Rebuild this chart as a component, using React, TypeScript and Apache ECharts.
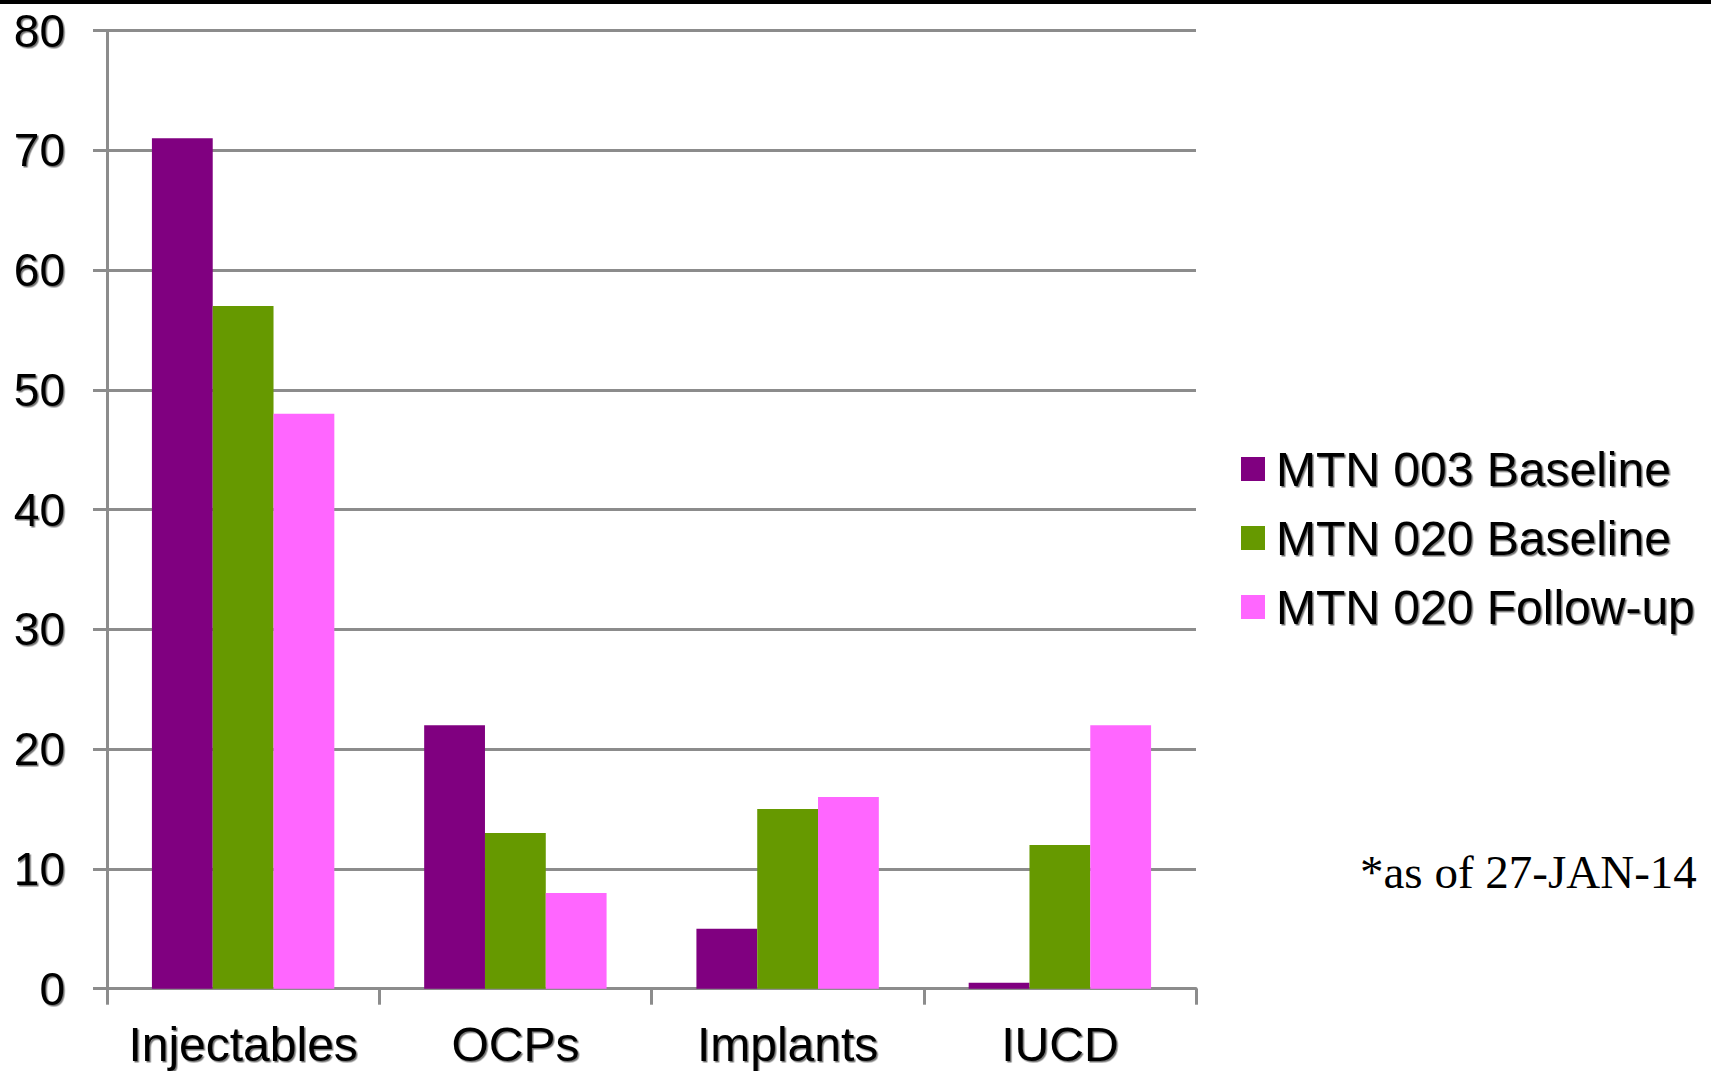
import React, { useEffect, useRef } from "react";
import * as echarts from "echarts";

const categories = ["Injectables", "OCPs", "Implants", "IUCD"];
const seriesNames = ["MTN 003 Baseline", "MTN 020 Baseline", "MTN 020 Follow-up"];
const mtn003Baseline = [71, 22, 5, 0.5];
const mtn020Baseline = [57, 13, 15, 12];
const mtn020Followup = [48, 8, 16, 22];
const yTicks = [0, 10, 20, 30, 40, 50, 60, 70, 80];
const footnote = "*as of 27-JAN-14";

const colors = ["#800080", "#669900", "#FF66FF"];

export default function App() {
  const ref = useRef<HTMLDivElement>(null);
  useEffect(() => {
    document.body.style.margin = "0";
    if (!ref.current) return;
    const chart = echarts.init(ref.current, null, { renderer: "svg" });
    const shadow = {
      textShadowColor: "rgba(0,0,0,0.55)",
      textShadowOffsetX: 1.5,
      textShadowOffsetY: 1.5,
      textShadowBlur: 1.5,
    };
    const values = [mtn003Baseline, mtn020Baseline, mtn020Followup];
    chart.setOption({
      animation: false,
      backgroundColor: "#ffffff",
      color: colors,
      grid: { left: 107, right: 515, top: 30.5, bottom: 82.3, containLabel: false },
      legend: {
        orient: "vertical",
        left: 1236,
        top: 440,
        icon: "rect",
        itemWidth: 24,
        itemHeight: 24,
        itemGap: 21,
        data: seriesNames,
        textStyle: {
          fontFamily: "Liberation Sans, Arial, sans-serif",
          fontSize: 48,
          color: "#000",
          lineHeight: 48,
          padding: [0, 0, 0, 6],
          ...shadow,
        },
      },
      xAxis: {
        type: "category",
        data: categories,
        axisLine: { lineStyle: { color: "#8c8c8c", width: 3 } },
        axisTick: { show: true, interval: 0, length: 16, lineStyle: { color: "#8c8c8c", width: 3 } },
        axisLabel: {
          interval: 0,
          margin: 32,
          fontFamily: "Liberation Sans, Arial, sans-serif",
          fontSize: 48,
          color: "#000",
          ...shadow,
        },
      },
      yAxis: {
        type: "value",
        min: yTicks[0],
        max: yTicks[yTicks.length - 1],
        interval: 10,
        axisLine: { show: true, lineStyle: { color: "#8c8c8c", width: 3 } },
        axisTick: { show: true, length: 14, lineStyle: { color: "#8c8c8c", width: 3 } },
        splitLine: { show: true, lineStyle: { color: "#8c8c8c", width: 3 } },
        axisLabel: {
          margin: 42,
          fontFamily: "Liberation Sans, Arial, sans-serif",
          fontSize: 46,
          color: "#000",
          ...shadow,
        },
      },
      series: seriesNames.map((name, i) => ({
        name,
        type: "bar",
        data: values[i],
        barGap: "0%",
        barCategoryGap: "33%",
        itemStyle: { color: colors[i] },
      })),
      graphic: [
        {
          type: "rect",
          left: 0,
          top: 0,
          shape: { width: 1711, height: 4 },
          style: { fill: "#000" },
        },
        {
          type: "text",
          left: 1360,
          top: 848,
          style: {
            text: footnote,
            font: "47px 'Liberation Serif', 'Times New Roman', serif",
            fill: "#000",
          },
        },
      ],
    });
    return () => chart.dispose();
  }, []);
  return <div ref={ref} style={{ width: 1711, height: 1071 }} />;
}
